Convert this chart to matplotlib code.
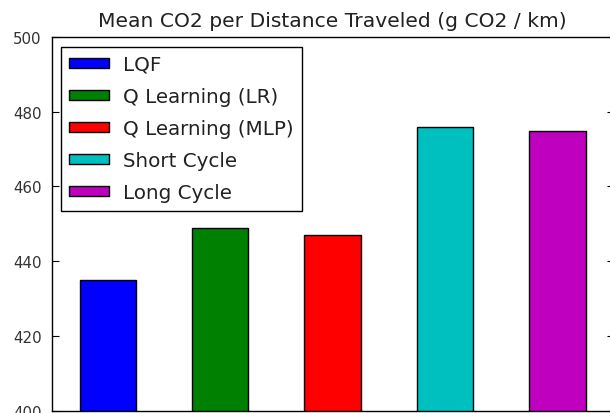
import matplotlib
matplotlib.use("Agg")
import matplotlib.pyplot as plt

labels = ["LQF", "Q Learning (LR)", "Q Learning (MLP)", "Short Cycle", "Long Cycle"]
values = [435.0, 448.8, 447.0, 475.8, 474.8]
colors = ["#0000ff", "#008000", "#ff0000", "#00bfbf", "#bf00bf"]
yticks = [400, 420, 440, 460, 480, 500]
title = "Mean CO2 per Distance Traveled (g CO2 / km)"

W, H = 610, 414
fig = plt.figure(figsize=(W / 100, H / 100), dpi=100)
left, right, top, bottom = 51.5, 613.7, 38.0, 411.7
ax = fig.add_axes([left / W, (H - bottom) / H, (right - left) / W, (bottom - top) / H])

for i, (lab, v, c) in enumerate(zip(labels, values, colors)):
    ax.bar(i, v, width=0.5, color=c, edgecolor="black", linewidth=1.0, label=lab, zorder=2)

ax.set_xlim(-0.5, len(labels) - 0.5)
ax.set_ylim(400, 500)
ax.set_yticks(yticks)
ax.set_xticks([])
ax.tick_params(axis="y", direction="in", length=5, width=0.8, right=True, labelsize=10.8, pad=7, colors="black")
ax.tick_params(axis="y", labelcolor="#333333")
for s in ax.spines.values():
    s.set_linewidth(1.0)
ax.set_title(title, fontsize=14.6, pad=8, color="#222222")

leg = ax.legend(loc="upper left", fontsize=14.3, fancybox=False, framealpha=1, edgecolor="black",
                borderaxespad=0.48, handlelength=2.0, handleheight=0.36, labelspacing=0.66,
                handletextpad=0.72, borderpad=0.42)
leg.get_frame().set_linewidth(1.0)
for t in leg.get_texts():
    t.set_color("#222222")

fig.savefig("out.png", dpi=100)
